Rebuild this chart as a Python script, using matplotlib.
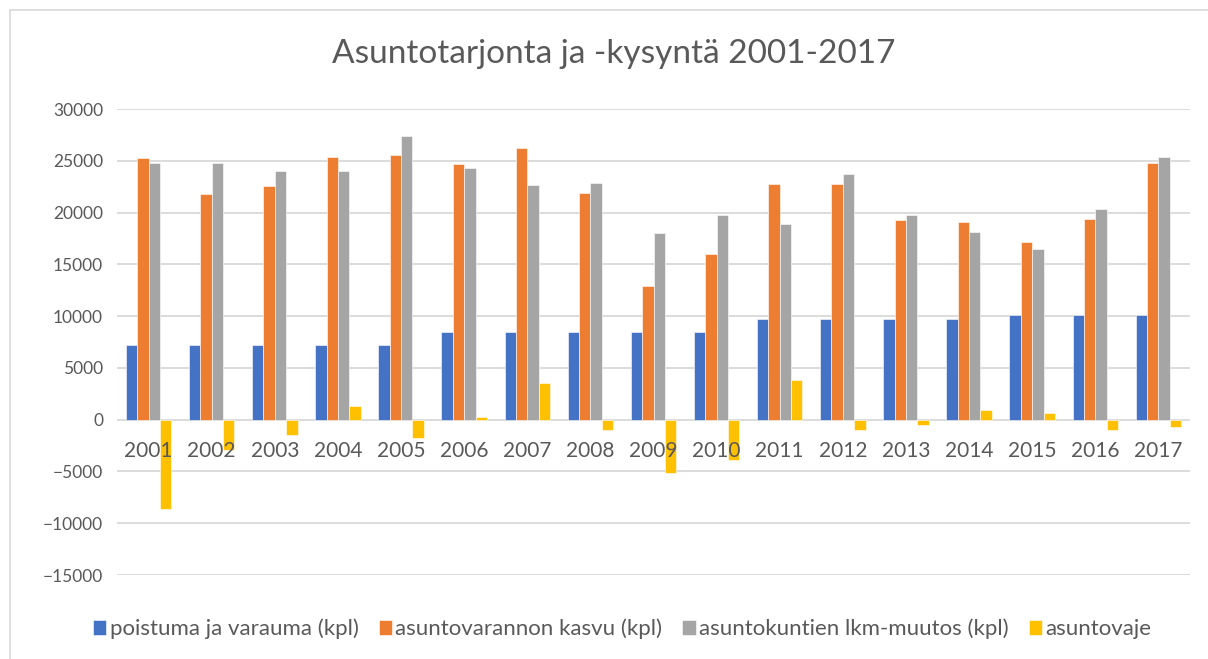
import numpy as np
import matplotlib
matplotlib.use('Agg')
import matplotlib.pyplot as plt
from matplotlib.patches import Rectangle

#=======================================================================================
# Data
#=======================================================================================

years = [str(y) for y in range(2001, 2018)]
poistuma = [7200, 7200, 7200, 7200, 7200, 8500, 8500, 8500, 8500, 8500,
            9750, 9750, 9750, 9750, 10150, 10150, 10150]
varanto_kasvu = [25300, 21800, 22600, 25350, 25600, 24650, 26250, 21850, 12900, 16000,
                 22750, 22800, 19300, 19100, 17200, 19400, 24750]
asuntokunnat = [24750, 24750, 24000, 24000, 27400, 24300, 22650, 22850, 18050, 19800,
                18850, 23700, 19800, 18150, 16500, 20300, 25400]
asuntovaje = [-8650, -2900, -1450, 1350, -1800, 300, 3550, -950, -5150, -3850,
              3850, -950, -550, 900, 650, -950, -700]

series = [
    ("poistuma ja varauma (kpl)", poistuma, '#4472C4'),
    ("asuntovarannon kasvu (kpl)", varanto_kasvu, '#ED7D31'),
    ("asuntokuntien lkm-muutos (kpl)", asuntokunnat, '#A5A5A5'),
    ("asuntovaje", asuntovaje, '#FFC000'),
]

font = 'Lato'
txt_col = '#595959'
grid_col = '#d9d9d9'

#=======================================================================================
# Plot
#=======================================================================================

fig = plt.figure(figsize=(12.08, 6.59), dpi=100)
fig.patches.append(Rectangle((10/1208, -0.01), 1.02, 1 - 10/659 + 0.01, transform=fig.transFigure,
                             fill=False, edgecolor=grid_col, linewidth=1.2))

ax = fig.add_axes([117/1208, 1 - 575/659, (1190 - 117)/1208, (575 - 109)/659])

x = np.arange(len(years))
bw = 0.18
for i, (name, vals, c) in enumerate(series):
    ax.bar(x + (i - 1.5)*bw, vals, bw, color=c, label=name, zorder=2,
           edgecolor='white', linewidth=0.4)

ax.set_ylim(-15000, 30000)
ax.set_xlim(-0.5, len(years) - 0.5)
ax.set_yticks(np.arange(-15000, 30001, 5000))
ax.yaxis.grid(True, color=grid_col, linewidth=1.3, zorder=0)
ax.set_axisbelow(True)
for s in ax.spines.values():
    s.set_visible(False)
ax.tick_params(axis='y', length=0, labelsize=12.5, labelcolor=txt_col, pad=10)
for lab in ax.get_yticklabels():
    lab.set_fontfamily(font)
ax.set_xticks([])

# year labels just below the zero line, on top of the bars
for xi, yr in zip(x, years):
    ax.text(xi, -3000, yr, ha='center', va='center', fontsize=15, color=txt_col,
            fontfamily=font, zorder=5)

fig.text(0.508, 1 - 54/659, "Asuntotarjonta ja -kysyntä 2001-2017", ha='center', va='center',
         fontsize=24, color=txt_col, fontfamily=font, fontweight='normal')

leg = fig.legend(loc='center', bbox_to_anchor=(0.515, 1 - 629/659), ncol=4, frameon=False,
                 prop={'family': font, 'size': 16}, handlelength=0.6, handleheight=0.6,
                 handletextpad=0.15, columnspacing=0.9)
for t in leg.get_texts():
    t.set_color(txt_col)

plt.savefig('out.png', dpi=100)
plt.close()
